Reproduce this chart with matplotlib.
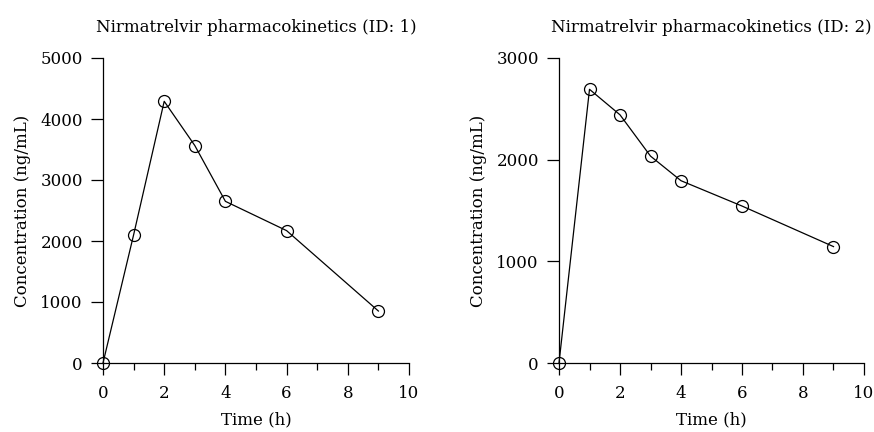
import matplotlib
matplotlib.use("Agg")
import matplotlib.pyplot as plt
from matplotlib.ticker import MultipleLocator

time_h = [0, 1, 2, 3, 4, 6, 9]
conc_id1 = [0, 2100, 4290, 3565, 2650, 2170, 852]
conc_id2 = [0, 2692, 2441, 2035, 1793, 1544, 1145]
titles = ["Nirmatrelvir pharmacokinetics (ID: 1)", "Nirmatrelvir pharmacokinetics (ID: 2)"]
ymaxes = [5000, 3000]
ysteps = [1000, 1000]

plt.rcParams['font.family'] = ['DejaVu Serif']
plt.rcParams['font.size'] = 12

fig = plt.figure(figsize=(8.74, 4.32), dpi=100)
positions = [[103/874, 1-363/432, 306/874, 305/432],
             [559/874, 1-363/432, 305/874, 305/432]]

for pos, conc, title, ymax, ystep in zip(positions, [conc_id1, conc_id2], titles, ymaxes, ysteps):
    ax = fig.add_axes(pos)
    ax.plot(time_h, conc, color='black', lw=0.9, marker='o', ms=8.6,
            mfc='none', mec='black', mew=0.9, clip_on=False, zorder=3)
    ax.set_xlim(0, 10)
    ax.set_ylim(0, ymax)
    ax.xaxis.set_major_locator(MultipleLocator(2))
    ax.xaxis.set_minor_locator(MultipleLocator(1))
    ax.yaxis.set_major_locator(MultipleLocator(ystep))
    for s in ['top', 'right']:
        ax.spines[s].set_visible(False)
    for s in ['left', 'bottom']:
        ax.spines[s].set_linewidth(0.9)
    ax.tick_params(axis='x', which='major', direction='out', length=8.5, width=0.9, pad=7)
    ax.tick_params(axis='x', which='minor', direction='out', length=5, width=0.9)
    ax.tick_params(axis='y', which='major', direction='out', length=8.5, width=0.9, pad=6)
    ax.set_xlabel("Time (h)", labelpad=7)
    ax.set_ylabel("Concentration (ng/mL)", labelpad=7)
    ax.set_title(title, fontsize=12, pad=19)

fig.savefig("out.png", dpi=100)
